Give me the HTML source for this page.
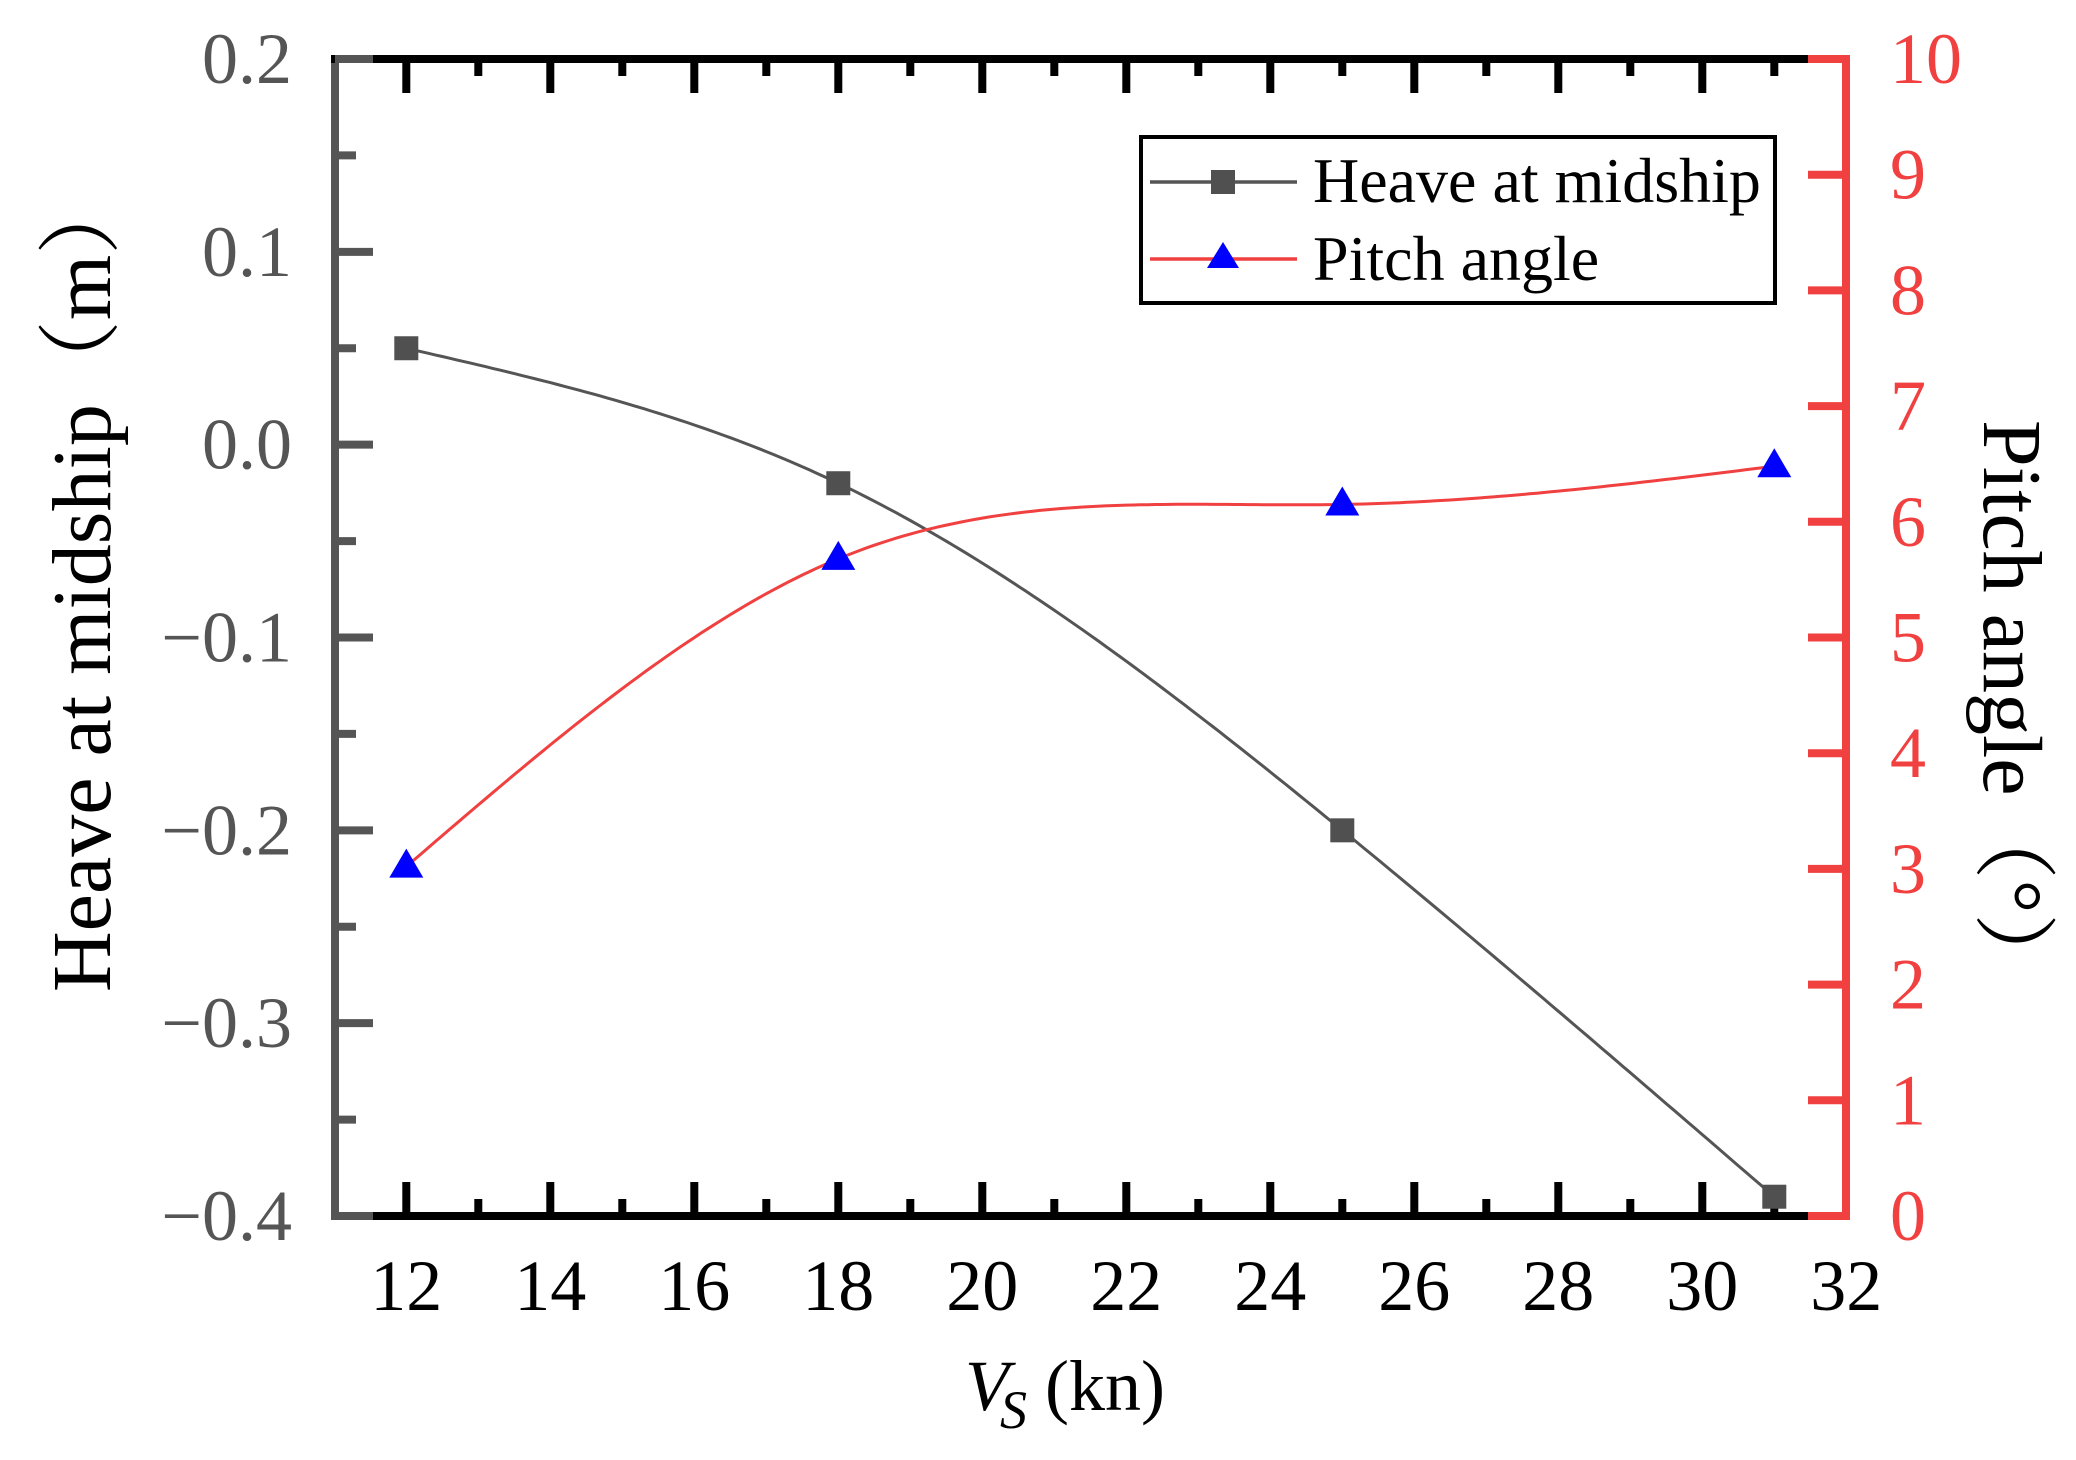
<!DOCTYPE html>
<html><head><meta charset="utf-8"><style>
html,body{margin:0;padding:0;background:#fff;}
svg{display:block;}
text{font-family:"Liberation Serif","Noto Serif CJK SC",serif;}
</style></head><body>
<svg id="s" width="2076" height="1460" viewBox="0 0 2076 1460" xmlns="http://www.w3.org/2000/svg">
<g id="g"></g>
<!-- legend -->
<rect x="1141" y="137" width="634" height="166" fill="#fff" stroke="#000" stroke-width="4"/>
<line x1="1150" y1="182" x2="1297" y2="182" stroke="#555" stroke-width="3.5"/>
<rect x="1211" y="170" width="24" height="24" fill="#505050"/>
<line x1="1150" y1="259" x2="1297" y2="259" stroke="#f04040" stroke-width="3.5"/>
<polygon points="1223,242 1239,268 1207,268" fill="#0000ff"/>
<text x="1313" y="202" font-size="64" fill="#000">Heave at midship</text>
<text x="1313" y="280" font-size="64" fill="#000">Pitch angle</text>
<!-- axis titles -->
<text transform="translate(110,992) rotate(-90)" font-size="84" fill="#000">Heave at midship（m）</text>
<text transform="translate(1984,420) rotate(90)" font-size="84" fill="#000">Pitch angle（°）</text>
<text x="965" y="1410" font-size="72" font-style="italic" fill="#000">V</text>
<text x="1000" y="1428" font-size="54" font-style="italic" fill="#000">S</text>
<text x="1045" y="1410" font-size="72" fill="#000">(kn)</text>
</svg>
<script>
var g=document.getElementById('g'),h='';
function X(v){return 406.3+72*(v-12);}
function YH(v){return 59+(0.2-v)*1928.33;}
function YP(v){return 1216-115.7*v;}
h+='<line x1="331" y1="59" x2="1850" y2="59" stroke="#000" stroke-width="8"/>';
h+='<line x1="331" y1="1216" x2="1850" y2="1216" stroke="#000" stroke-width="8"/>';
h+='<line x1="331" y1="1216" x2="373" y2="1216" stroke="#555" stroke-width="8"/>';
h+='<line x1="1808" y1="1216" x2="1850" y2="1216" stroke="#f04040" stroke-width="8"/>';
h+='<line x1="1808" y1="59" x2="1850" y2="59" stroke="#f04040" stroke-width="8"/>';
h+='<line x1="335" y1="63" x2="335" y2="1220" stroke="#555" stroke-width="8"/>';
h+='<line x1="1846" y1="55" x2="1846" y2="1220" stroke="#f04040" stroke-width="8"/>';
for(var v=12;v<=31;v++){var L=(v%2==0)?34:17,x=X(v);
 h+='<line x1="'+x+'" y1="1216" x2="'+x+'" y2="'+(1216-L)+'" stroke="#000" stroke-width="8"/>';
 h+='<line x1="'+x+'" y1="59" x2="'+x+'" y2="'+(59+L)+'" stroke="#000" stroke-width="8"/>';}
for(var v=12;v<=32;v+=2){h+='<text x="'+X(v)+'" y="1310" font-size="72" text-anchor="middle" fill="#000">'+v+'</text>';}
for(var i=0;i<=12;i++){var val=0.2-i*0.05,y=YH(val),L=(i%2==0)?34:17;
 h+='<line x1="335" y1="'+y+'" x2="'+(339+L)+'" y2="'+y+'" stroke="#555" stroke-width="8"/>';
 if(i%2==0){var t=val.toFixed(1);if(Math.abs(val)<1e-9)t='0.0';if(val<-1e-9)t='\u2212'+(-val).toFixed(1);
 h+='<text x="292" y="'+(y+24)+'" font-size="72" text-anchor="end" fill="#555">'+t+'</text>';}}
for(var p=0;p<=10;p++){var y=YP(p);
 h+='<line x1="1808" y1="'+y+'" x2="1846" y2="'+y+'" stroke="#f04040" stroke-width="8"/>';
 h+='<text x="1890" y="'+(y+24)+'" font-size="72" fill="#f04040">'+p+'</text>';}
function spline(xs,ys){var n=xs.length,hh=[],al=[],l=[1],mu=[0],z=[0],c=[],b=[],d=[];
 for(var i=0;i<n-1;i++)hh[i]=xs[i+1]-xs[i];
 for(var i=1;i<n-1;i++)al[i]=3/hh[i]*(ys[i+1]-ys[i])-3/hh[i-1]*(ys[i]-ys[i-1]);
 for(var i=1;i<n-1;i++){l[i]=2*(xs[i+1]-xs[i-1])-hh[i-1]*mu[i-1];mu[i]=hh[i]/l[i];z[i]=(al[i]-hh[i-1]*z[i-1])/l[i];}
 c[n-1]=0;for(var j=n-2;j>=0;j--){c[j]=z[j]-mu[j]*c[j+1];b[j]=(ys[j+1]-ys[j])/hh[j]-hh[j]*(c[j+1]+2*c[j])/3;d[j]=(c[j+1]-c[j])/(3*hh[j]);}
 return function(x){var j=0;while(j<n-2&&x>xs[j+1])j++;var t=x-xs[j];return ys[j]+b[j]*t+c[j]*t*t+d[j]*t*t*t;};}
var xs=[12,18,25,31],hv=[0.05,-0.02,-0.2,-0.39],pv=[3.02,5.68,6.15,6.48];
var fh=spline(xs,hv),fp=spline(xs,pv),ph='',pp='';
for(var v=12;v<=31.0001;v+=0.1){ph+=(ph?'L':'M')+X(v).toFixed(1)+','+YH(fh(v)).toFixed(1);pp+=(pp?'L':'M')+X(v).toFixed(1)+','+YP(fp(v)).toFixed(1);}
h+='<path d="'+ph+'" fill="none" stroke="#555" stroke-width="3"/>';
h+='<path d="'+pp+'" fill="none" stroke="#f04040" stroke-width="3"/>';
for(var i=0;i<4;i++){var x=X(xs[i]),y=YH(hv[i]);h+='<rect x="'+(x-12)+'" y="'+(y-12)+'" width="24" height="24" fill="#505050"/>';
 y=YP(pv[i]);h+='<polygon points="'+x+','+(y-18)+' '+(x+17)+','+(y+11)+' '+(x-17)+','+(y+11)+'" fill="#0000ff"/>';}
g.innerHTML=h;
</script>
</body></html>
